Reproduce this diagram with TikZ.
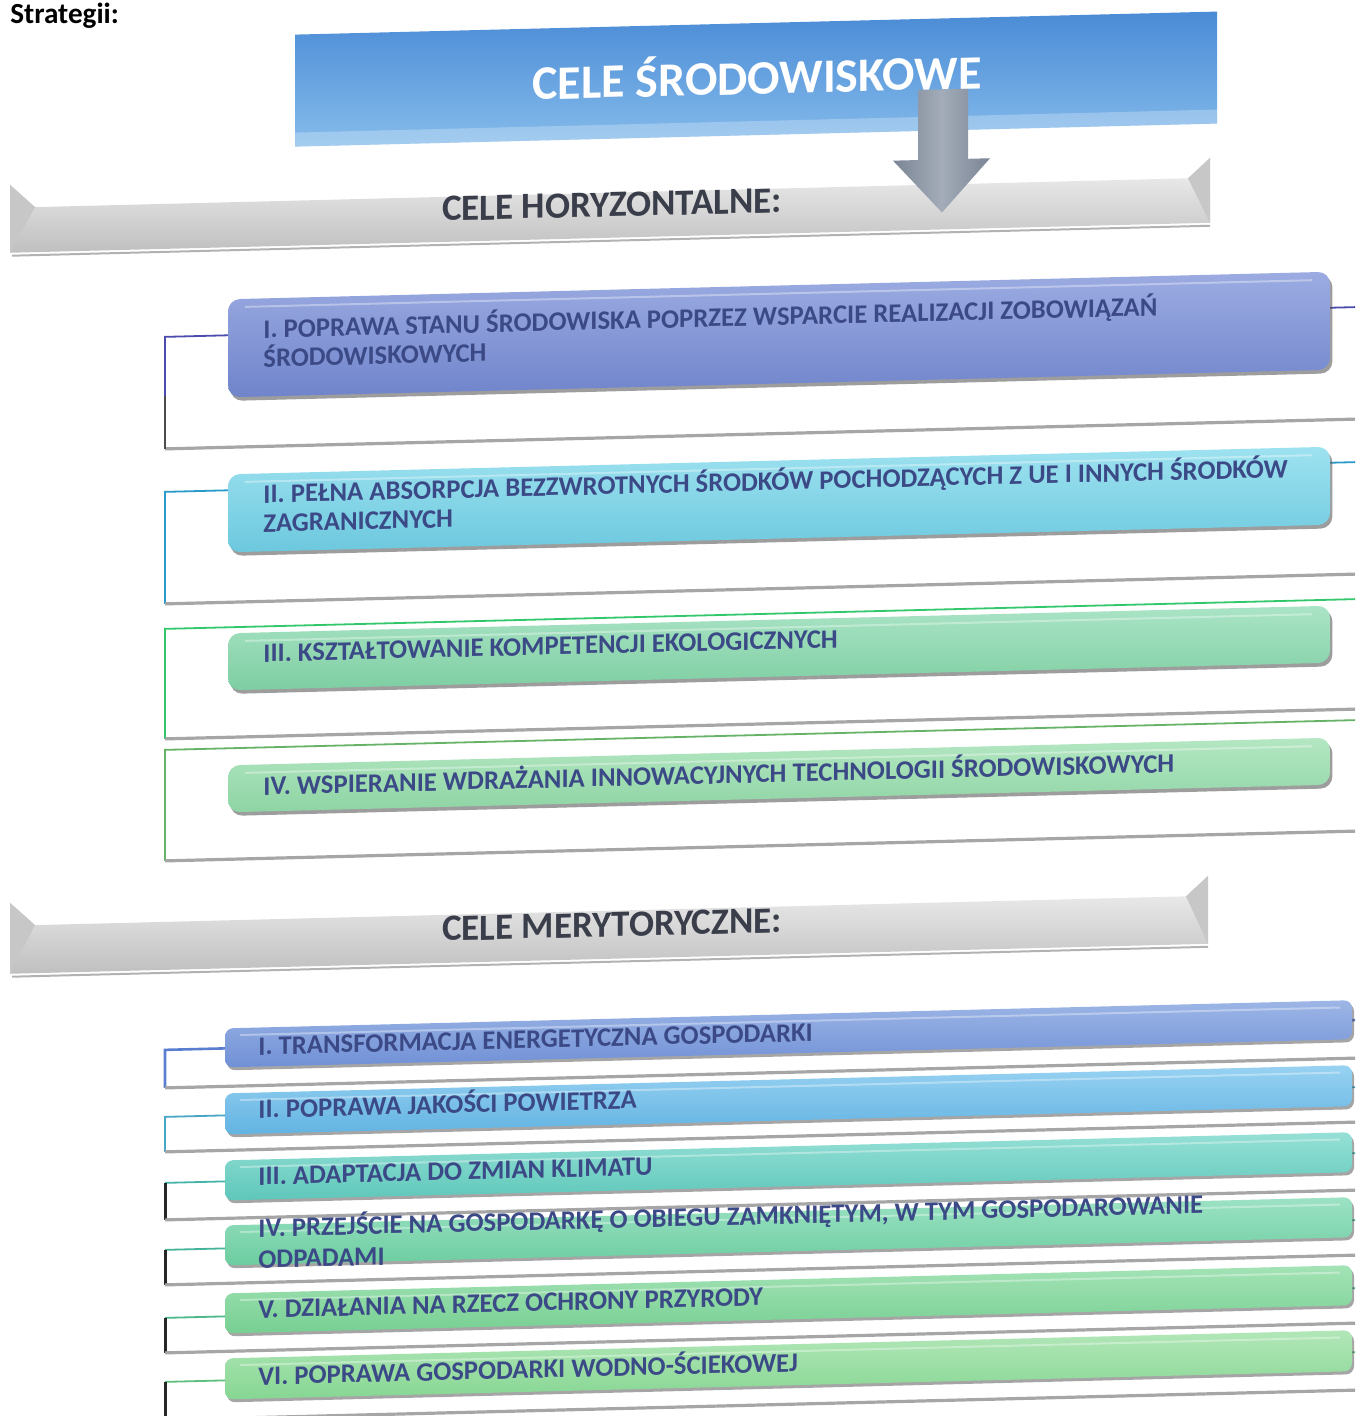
\documentclass[tikz,border=0pt]{standalone}
\usepackage{fontspec}
\setmainfont{Carlito}
\usetikzlibrary{shadows}
\definecolor{txt}{HTML}{3B4A86}
\definecolor{bantxt}{HTML}{3A3D4A}
\definecolor{ttop}{HTML}{4A8BD6}
\definecolor{tbot}{HTML}{86BCEB}
\definecolor{arrside}{HTML}{7A8595}
\definecolor{arrmid}{HTML}{A3ACB8}
\begin{document}
\begin{tikzpicture}[x=0.5pt,y=-0.5pt,
  lbl/.style={font=\bfseries\fontsize{13.35}{16}\selectfont, text=txt, anchor=base west, inner sep=0pt},
  bantext/.style={font=\bfseries\fontsize{18.5}{22}\selectfont, text=bantxt, anchor=base, inner sep=0pt},
  goalbox/.style={rounded corners=6pt, drop shadow={shadow xshift=1.2pt, shadow yshift=-1.8pt, opacity=0.55, fill=black!70}},
  lowbox/.style={rounded corners=4pt, drop shadow={shadow xshift=1pt, shadow yshift=-1.5pt, opacity=0.5, fill=black!70}},
  gloss/.style={line width=1pt, draw=white, opacity=0.35},
  bottomline/.style={line width=1.6pt, draw=black!35},
  bracket/.style={line width=0.9pt},
  darkbar/.style={line width=1.5pt, draw=black!85}]
\useasboundingbox (0,0) rectangle (1355,1416);
\clip (0,0) rectangle (1355,1416);
\node[font=\bfseries\fontsize{14.6}{18}\selectfont, anchor=base west, inner sep=0pt] (strat) at (10,24) {Strategii:};
\begin{scope}[yslant=0.025, transform shape]
% ---------- title box ----------
\path[top color=ttop, bottom color=tbot] (295,42) rectangle (1217,154);
\path[fill=white, opacity=0.25] (295,140) rectangle (1217,154);
\node[font=\bfseries\fontsize{24}{29}\selectfont, text=white, anchor=base, inner sep=0pt] (title) at (757,113) {CELE ŚRODOWISKOWE};
% ---------- banner 1 ----------
\path[top color=black!5, bottom color=black!25] (10,185) -- (35,208) -- (1188,208) -- (1210,188) -- (1210,253) -- (10,253) -- cycle;
\path[fill=black!22] (10,185) -- (35,208) -- (10,253) -- cycle;
\path[fill=black!22] (1210,188) -- (1188,208) -- (1210,253) -- cycle;
\draw[line width=1pt, black!30] (12,256) -- (1210,256);
\node[bantext] (hor) at (612,232) {CELE HORYZONTALNE:};
% ---------- arrow ----------
\path[left color=arrside, right color=arrside, middle color=arrmid]
  (918,113) -- (968,113) -- (968,183) -- (990,183) -- (942,236) -- (893,183) -- (918,183) -- cycle;
% ---------- horizontal goals: brackets ----------
\coordinate (a1t) at (165,341); \coordinate (a1b) at (165,453);
\coordinate (a2t) at (165,496); \coordinate (a2b) at (165,608);
\coordinate (a3t) at (165,633); \coordinate (a3b) at (165,743);
\coordinate (a4t) at (165,754); \coordinate (a4b) at (165,865);
\draw[bracket, draw=blue!55!black!70!white] (1400,341) -- (a1t) -- (a1b);
\draw[bottomline] (a1b) -- (1400,453);
\draw[bracket, draw=cyan!60!teal] (1400,496) -- (a2t) -- (a2b);
\draw[bottomline] (a2b) -- (1400,608);
\draw[bracket, draw=green!45!teal!80!white] (1400,633) -- (a3t) -- (a3b);
\draw[bottomline] (a3b) -- (1400,743);
\draw[bracket, draw=green!50!black!60!white] (1400,754) -- (a4t) -- (a4b);
\draw[bottomline] (a4b) -- (1400,865);
\draw[bracket, draw=black!70] (165,400) -- (a1b);
% ---------- horizontal goals: boxes ----------
\path[goalbox, top color={rgb,255:red,156;green,172;blue,226}, bottom color={rgb,255:red,112;green,132;blue,203}] (228,305) rectangle (1330,403);
\path[goalbox, top color={rgb,255:red,158;green,226;blue,240}, bottom color={rgb,255:red,108;green,200;blue,222}] (228,480) rectangle (1330,558);
\path[goalbox, top color={rgb,255:red,170;green,228;blue,198}, bottom color={rgb,255:red,126;green,206;blue,162}] (228,639) rectangle (1330,696);
\path[goalbox, top color={rgb,255:red,180;green,231;blue,194}, bottom color={rgb,255:red,142;green,212;blue,164}] (228,771) rectangle (1330,818);
\draw[gloss] (245,313) -- (1312,313);
\draw[gloss] (245,488) -- (1312,488);
\draw[gloss] (245,647) -- (1312,647);
\draw[gloss] (245,779) -- (1312,779);
\node[lbl] (h1a) at (263,344.6) {I. POPRAWA STANU ŚRODOWISKA POPRZEZ WSPARCIE REALIZACJI ZOBOWIĄZAŃ};
\node[lbl] (h1b) at (263,373.6) {ŚRODOWISKOWYCH};
\node[lbl] (h2a) at (263,509.6) {II. PEŁNA ABSORPCJA BEZZWROTNYCH ŚRODKÓW POCHODZĄCYCH Z UE I INNYCH ŚRODKÓW};
\node[lbl] (h2b) at (263,538.6) {ZAGRANICZNYCH};
\node[lbl] (h3) at (263,668.6) {III. KSZTAŁTOWANIE KOMPETENCJI EKOLOGICZNYCH};
\node[lbl] (h4) at (263,801.6) {IV. WSPIERANIE WDRAŻANIA INNOWACYJNYCH TECHNOLOGII ŚRODOWISKOWYCH};
% ---------- banner 2 ----------
\path[top color=black!5, bottom color=black!25] (10,903) -- (35,926) -- (1186,926) -- (1208,906) -- (1208,974) -- (10,974) -- cycle;
\path[fill=black!22] (10,903) -- (35,926) -- (10,974) -- cycle;
\path[fill=black!22] (1208,906) -- (1186,926) -- (1208,974) -- cycle;
\draw[line width=1pt, black!30] (12,977) -- (1208,977);
\node[bantext] (mer) at (612,952) {CELE MERYTORYCZNE:};
% ---------- substantive goals: brackets ----------
\coordinate (m1t) at (165,1054); \coordinate (m1b) at (165,1092);
\coordinate (m2t) at (165,1121); \coordinate (m2b) at (165,1156);
\coordinate (m3t) at (165,1187); \coordinate (m3b) at (165,1224);
\coordinate (m4t) at (165,1254); \coordinate (m4b) at (165,1289);
\coordinate (m5t) at (165,1322); \coordinate (m5b) at (165,1357);
\coordinate (m6t) at (165,1386); \coordinate (m6b) at (165,1424);
\draw[bracket, line width=1.3pt, draw={rgb,255:red,90;green,126;blue,208}] (1400,1054) -- (m1t) -- (m1b);
\draw[bottomline] (m1b) -- (1400,1092);
\draw[bracket, draw={rgb,255:red,71;green,167;blue,196}] (1400,1121) -- (m2t) -- (m2b);
\draw[bottomline] (m2b) -- (1400,1156);
\draw[bracket, draw={rgb,255:red,69;green,180;blue,168}] (1400,1187) -- (m3t);
\draw[darkbar] (m3t) -- (m3b);
\draw[bottomline] (m3b) -- (1400,1224);
\draw[bracket, draw={rgb,255:red,68;green,179;blue,154}] (1400,1254) -- (m4t);
\draw[darkbar] (m4t) -- (m4b);
\draw[bottomline] (m4b) -- (1400,1289);
\draw[bracket, draw={rgb,255:red,77;green,184;blue,138}] (1400,1322) -- (m5t);
\draw[darkbar] (m5t) -- (m5b);
\draw[bottomline] (m5b) -- (1400,1357);
\draw[bracket, draw={rgb,255:red,96;green,190;blue,126}] (1400,1386) -- (m6t);
\draw[darkbar] (m6t) -- (m6b);
\draw[bottomline] (m6b) -- (1400,1424);
% ---------- substantive goals: boxes ----------
\path[lowbox, top color={rgb,255:red,157;green,182;blue,230}, bottom color={rgb,255:red,112;green,144;blue,214}] (225,1034) rectangle (1352,1073);
\path[lowbox, top color={rgb,255:red,152;green,210;blue,242}, bottom color={rgb,255:red,98;green,179;blue,226}] (225,1099) rectangle (1352,1140);
\path[lowbox, top color={rgb,255:red,150;green,224;blue,214}, bottom color={rgb,255:red,94;green,199;blue,186}] (225,1166) rectangle (1352,1206);
\path[lowbox, top color={rgb,255:red,156;green,226;blue,196}, bottom color={rgb,255:red,108;green,205;blue,160}] (225,1231) rectangle (1352,1271);
\path[lowbox, top color={rgb,255:red,164;green,227;blue,182}, bottom color={rgb,255:red,118;green,207;blue,146}] (225,1299) rectangle (1352,1339);
\path[lowbox, top color={rgb,255:red,178;green,231;blue,184}, bottom color={rgb,255:red,134;green,214;blue,147}] (225,1364) rectangle (1352,1405);
\draw[gloss] (240,1041) -- (1340,1041);
\draw[gloss] (240,1106) -- (1340,1106);
\draw[gloss] (240,1173) -- (1340,1173);
\draw[gloss] (240,1238) -- (1340,1238);
\draw[gloss] (240,1306) -- (1340,1306);
\draw[gloss] (240,1371) -- (1340,1371);
\node[lbl] (m1) at (258,1061.5) {I. TRANSFORMACJA ENERGETYCZNA GOSPODARKI};
\node[lbl] (m2) at (258,1124.5) {II. POPRAWA JAKOŚCI POWIETRZA};
\node[lbl] (m3) at (258,1191.5) {III. ADAPTACJA DO ZMIAN KLIMATU};
\node[lbl] (m4a) at (258,1243.5) {IV. PRZEJŚCIE NA GOSPODARKĘ O OBIEGU ZAMKNIĘTYM, W TYM GOSPODAROWANIE};
\node[lbl] (m4b) at (258,1274.5) {ODPADAMI};
\node[lbl] (m5) at (258,1324.5) {V. DZIAŁANIA NA RZECZ OCHRONY PRZYRODY};
\node[lbl] (m6) at (258,1391.5) {VI. POPRAWA GOSPODARKI WODNO-ŚCIEKOWEJ};
\end{scope}
\end{tikzpicture}
\end{document}
